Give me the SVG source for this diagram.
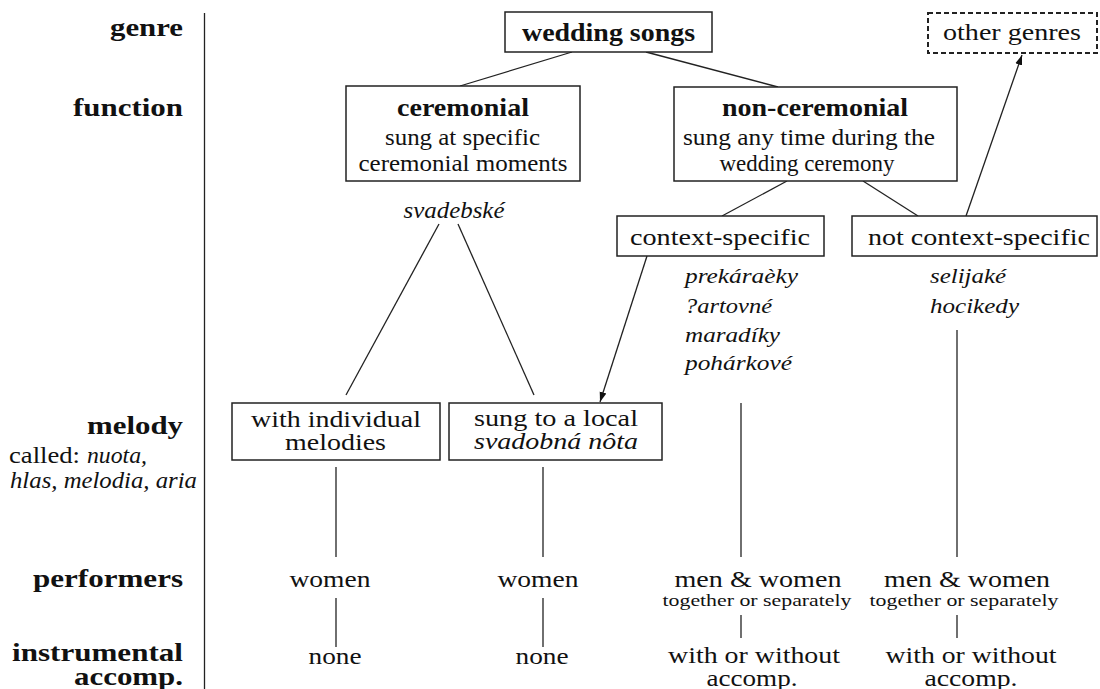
<svg xmlns="http://www.w3.org/2000/svg" width="1100" height="689" viewBox="0 0 1100 689" font-family="'Liberation Serif', 'Times New Roman', Times, serif">
<style>
text{font-family:'Liberation Serif','Times New Roman',Times,serif;fill:#111;}
.lab{font-weight:bold;font-size:25px;text-anchor:end;}
.b{font-weight:bold;font-size:25px;text-anchor:middle;}
.r{font-size:23px;text-anchor:middle;}
.ri{font-size:23px;font-style:italic;text-anchor:middle;}
.it{font-size:22px;font-style:italic;}
.sm{font-size:17px;text-anchor:middle;}
.box{fill:#fff;stroke:#222;stroke-width:1.5;}
.dash{fill:#fff;stroke:#222;stroke-width:2;stroke-dasharray:5,3;}
.ln{stroke:#222;stroke-width:1.3;fill:none;}
</style>
<defs>
<marker id="ah" markerWidth="10" markerHeight="8" refX="10" refY="4" orient="auto" markerUnits="userSpaceOnUse">
<path d="M0,0.5 L10,4 L0,7.5 Z" fill="#111"/>
</marker>
</defs>
<g id="labels">
<line class="ln" x1="204.5" y1="13" x2="204.5" y2="689"/>
<text class="lab" x="183" y="36" textLength="73" lengthAdjust="spacingAndGlyphs">genre</text>
<text class="lab" x="183" y="116" textLength="110" lengthAdjust="spacingAndGlyphs">function</text>
<text class="lab" x="183" y="434" textLength="96" lengthAdjust="spacingAndGlyphs">melody</text>
<text x="9" y="463" font-size="23" textLength="71" lengthAdjust="spacingAndGlyphs">called:</text>
<text x="87" y="463" font-size="23" font-style="italic" textLength="60" lengthAdjust="spacingAndGlyphs">nuota,</text>
<text x="10" y="488" font-size="23" font-style="italic" textLength="187" lengthAdjust="spacingAndGlyphs">hlas, melodia, aria</text>
<text class="lab" x="183" y="587" textLength="150" lengthAdjust="spacingAndGlyphs">performers</text>
<text class="lab" x="183" y="661" textLength="171" lengthAdjust="spacingAndGlyphs">instrumental</text>
<text class="lab" x="183" y="685" textLength="109" lengthAdjust="spacingAndGlyphs">accomp.</text>
</g>
<g id="connectors">
<line class="ln" x1="572" y1="52" x2="460" y2="86"/>
<line class="ln" x1="646" y1="52" x2="778" y2="87"/>
<line class="ln" x1="787" y1="181" x2="722" y2="216"/>
<line class="ln" x1="863" y1="181" x2="918" y2="216"/>
<line class="ln" x1="966" y1="216" x2="1022" y2="55" marker-end="url(#ah)"/>
<line class="ln" x1="439" y1="224" x2="346" y2="395"/>
<line class="ln" x1="458" y1="224" x2="534" y2="395"/>
<line class="ln" x1="647" y1="256" x2="600" y2="402" marker-end="url(#ah)"/>
<line class="ln" x1="336" y1="467" x2="336" y2="557"/>
<line class="ln" x1="336" y1="598" x2="336" y2="647"/>
<line class="ln" x1="543" y1="467" x2="543" y2="557"/>
<line class="ln" x1="543" y1="598" x2="543" y2="647"/>
<line class="ln" x1="741" y1="403" x2="741" y2="557"/>
<line class="ln" x1="741" y1="615" x2="741" y2="638"/>
<line class="ln" x1="957" y1="330" x2="957" y2="557"/>
<line class="ln" x1="957" y1="615" x2="957" y2="638"/>
</g>
<g id="wedding-songs">
<rect class="box" x="505" y="12" width="207" height="40"/>
<text class="b" x="608.5" y="41" textLength="173" lengthAdjust="spacingAndGlyphs">wedding songs</text>
</g>
<g id="other-genres">
<rect class="dash" x="928" y="13" width="169" height="40"/>
<text class="r" x="1012" y="40" textLength="138" lengthAdjust="spacingAndGlyphs">other genres</text>
</g>
<g id="ceremonial">
<rect class="box" x="346" y="86" width="234" height="95"/>
<text class="b" x="463" y="116" textLength="132" lengthAdjust="spacingAndGlyphs">ceremonial</text>
<text class="r" x="462.5" y="145" textLength="155" lengthAdjust="spacingAndGlyphs">sung at specific</text>
<text class="r" x="463" y="171" textLength="209" lengthAdjust="spacingAndGlyphs">ceremonial moments</text>
</g>
<g id="non-ceremonial">
<rect class="box" x="674" y="87" width="283" height="94"/>
<text class="b" x="815" y="116" textLength="186" lengthAdjust="spacingAndGlyphs">non-ceremonial</text>
<text class="r" x="809" y="145" textLength="252" lengthAdjust="spacingAndGlyphs">sung any time during the</text>
<text class="r" x="807" y="171" textLength="175" lengthAdjust="spacingAndGlyphs">wedding ceremony</text>
</g>
<g id="svadebske">
<text class="ri" x="454" y="218" textLength="101" lengthAdjust="spacingAndGlyphs">svadebské</text>
</g>
<g id="context-specific">
<rect class="box" x="617" y="216" width="207" height="40"/>
<text class="r" x="720" y="245" font-size="24" textLength="180" lengthAdjust="spacingAndGlyphs">context-specific</text>
<text class="it" x="685" y="283" textLength="113" lengthAdjust="spacingAndGlyphs">prekáraèky</text>
<text class="it" x="685" y="313" textLength="87" lengthAdjust="spacingAndGlyphs">?artovné</text>
<text class="it" x="685" y="342" textLength="95" lengthAdjust="spacingAndGlyphs">maradíky</text>
<text class="it" x="685" y="370" textLength="107" lengthAdjust="spacingAndGlyphs">pohárkové</text>
</g>
<g id="not-context-specific">
<rect class="box" x="852" y="216" width="245" height="40"/>
<text class="r" x="979" y="245" font-size="24" textLength="222" lengthAdjust="spacingAndGlyphs">not context-specific</text>
<text class="it" x="930" y="283" textLength="76" lengthAdjust="spacingAndGlyphs">selijaké</text>
<text class="it" x="930" y="313" textLength="89" lengthAdjust="spacingAndGlyphs">hocikedy</text>
</g>
<g id="individual-melodies">
<rect class="box" x="232" y="403" width="208" height="57"/>
<text class="r" x="336" y="427" font-size="22" textLength="170" lengthAdjust="spacingAndGlyphs">with individual</text>
<text class="r" x="335.5" y="450" font-size="22" textLength="101" lengthAdjust="spacingAndGlyphs">melodies</text>
</g>
<g id="local-nota">
<rect class="box" x="449" y="403" width="213" height="57"/>
<text class="r" x="556" y="426" font-size="21" textLength="164" lengthAdjust="spacingAndGlyphs">sung to a local</text>
<text class="ri" x="556" y="449" font-size="21" textLength="164" lengthAdjust="spacingAndGlyphs">svadobná nôta</text>
</g>
<g id="col1">
<text class="r" x="330" y="587" textLength="81" lengthAdjust="spacingAndGlyphs">women</text>
<text class="r" x="335" y="664" textLength="53" lengthAdjust="spacingAndGlyphs">none</text>
</g>
<g id="col2">
<text class="r" x="538" y="587" textLength="81" lengthAdjust="spacingAndGlyphs">women</text>
<text class="r" x="542" y="664" textLength="53" lengthAdjust="spacingAndGlyphs">none</text>
</g>
<g id="col3">
<text class="r" x="758" y="587" textLength="167" lengthAdjust="spacingAndGlyphs">men &amp; women</text>
<text class="sm" x="757" y="606" textLength="189" lengthAdjust="spacingAndGlyphs">together or separately</text>
<text class="r" x="754" y="663" font-size="22" textLength="172" lengthAdjust="spacingAndGlyphs">with or without</text>
<text class="r" x="752" y="686" font-size="22" textLength="91" lengthAdjust="spacingAndGlyphs">accomp.</text>
</g>
<g id="col4">
<text class="r" x="967" y="587" textLength="166" lengthAdjust="spacingAndGlyphs">men &amp; women</text>
<text class="sm" x="964" y="606" textLength="189" lengthAdjust="spacingAndGlyphs">together or separately</text>
<text class="r" x="971" y="663" font-size="22" textLength="171" lengthAdjust="spacingAndGlyphs">with or without</text>
<text class="r" x="971" y="686" font-size="22" textLength="93" lengthAdjust="spacingAndGlyphs">accomp.</text>
</g>
</svg>
